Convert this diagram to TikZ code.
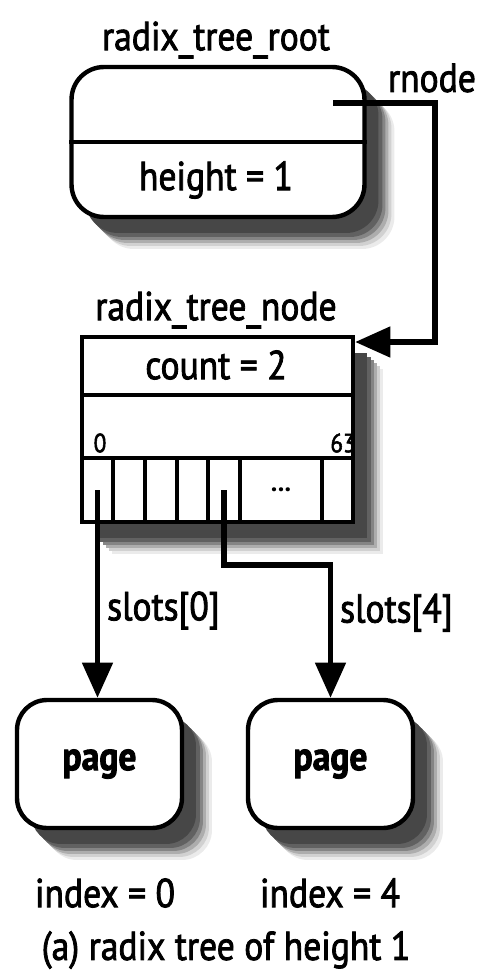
\documentclass[tikz,border=0pt]{standalone}
\usepackage{fontspec}
\setmainfont{PT Sans}
\newfontfamily\lblfont{PT Sans}[FakeStretch=0.88, FakeBold=2]
\usepackage{tikz}
\usetikzlibrary{arrows.meta}
\usetikzlibrary{positioning}

\begin{document}
\begin{tikzpicture}[x=0.02cm, y=-0.02cm]
    \tikzstyle{txt}=[font=\lblfont\fontsize{23}{26}\selectfont, inner sep=0pt]
    \tikzstyle{small}=[font=\lblfont\fontsize{15}{17}\selectfont, inner sep=0pt]
    \tikzset{shd/.style={
      preaction={fill=black!8,  transform canvas={shift={(30,32)}}},
      preaction={fill=black!18, transform canvas={shift={(27,29)}}},
      preaction={fill=black!32, transform canvas={shift={(24,26)}}},
      preaction={fill=black!48, transform canvas={shift={(21,23)}}},
      preaction={fill=black!62, transform canvas={shift={(18,20)}}},
      preaction={fill=black!72, transform canvas={shift={(14,16)}}}}}
    \tikzstyle{rbox}=[draw, line width=2.5pt, rounded corners=0.65cm, fill=white, shd]
    \tikzstyle{ptr}=[line width=3pt, -{Triangle[length=20pt, width=17pt]}]
    \useasboundingbox (0,0) rectangle (482,980);

    % root of the tree
    \node[txt] (roottitle) at (216,40) {radix\_tree\_root};
    \node[rbox, minimum width=5.86cm, minimum height=3cm] (root) at (218,142) {};
    \draw[line width=2.5pt] (root.west) -- (root.east);
    \node[txt] (height) at (216,180) {height = 1};
    \coordinate (rnode) at (333,103);
    \node[txt] (rnodelbl) at (432,78) {rnode};

    % the node with its slots
    \node[txt] (nodetitle) at (216,310) {radix\_tree\_node};
    \node[draw, line width=2.5pt, fill=white, shd, minimum width=5.42cm, minimum height=3.7cm] (rtn) at (217.5,429.5) {};
    \draw[line width=2.5pt] (82,395) -- (353,395);
    \node[txt] (count) at (216,365) {count = 2};
    \node[small] (first) at (100,443) {0};
    \node[small, anchor=east] (last) at (356,443) {63};
    \foreach \n/\l/\r in {0/82/113, 1/113/145, 2/145/177, 3/177/208, 4/208/240, 5/240/322, 6/322/353}
    {\draw[line width=2.5pt] (\l,458) rectangle (\r,522);
     \coordinate (s\n) at ({(\l+\r)/2},490);}
    \node[small, font=\bfseries\fontsize{15}{17}\selectfont] (dots) at (s5) {...};

    % pages
    \node[rbox, minimum width=3.3cm, minimum height=2.56cm, rounded corners=0.6cm] (page0) at (99.5,764) {};
    \node[rbox, minimum width=3.3cm, minimum height=2.56cm, rounded corners=0.6cm] (page4) at (330.5,764) {};
    \node[txt] at (page0) {\bfseries page};
    \node[txt] at (page4) {\bfseries page};
    \node[txt] (idx0) at (105,893) {index = 0};
    \node[txt] (idx4) at (330,893) {index = 4};
    \node[txt] (caption) at (226,950) {(a) radix tree of height 1};

    % pointers
    \coordinate (bend) at (435,342);
    \draw[ptr] (rnode) -| (bend) -- (bend -| rtn.east);
    \draw[ptr] (s0) -- node[txt, pos=0.58, right=4pt]{slots[0]} (s0 |- page0.north);
    \draw[ptr] (s4) -- ++(0,75) -| node[txt, pos=0.68, right=4pt]{slots[4]} (page4.north);
\end{tikzpicture}
\end{document}
